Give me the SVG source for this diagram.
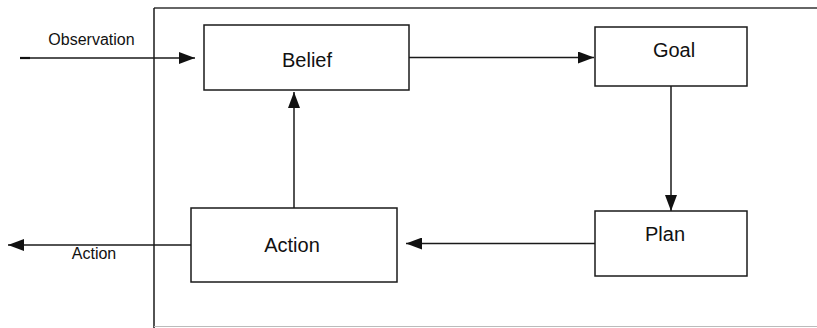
<svg xmlns="http://www.w3.org/2000/svg" width="817" height="328" viewBox="0 0 817 328">
  <style>
    .box { fill: #ffffff; stroke: #1a1a1a; stroke-width: 1.5; }
    .edge { fill: none; stroke: #1a1a1a; stroke-width: 1.5; }
    .label { font-family: "Liberation Sans", Arial, sans-serif; fill: #111111; text-anchor: middle; }
    .node-label { font-size: 20px; }
    .edge-label { font-size: 16px; }
  </style>
  <defs>
    <marker id="arrow" viewBox="0 0 16 12" refX="16" refY="6" markerWidth="16" markerHeight="12" markerUnits="userSpaceOnUse" orient="auto">
      <path d="M0,0 L16,6 L0,12 Z" fill="#111111"/>
    </marker>
  </defs>

  <rect width="817" height="328" fill="#ffffff"/>

  <!-- agent boundary -->
  <g id="frame">
    <line x1="154" y1="8" x2="817" y2="8" stroke="#333333" stroke-width="1.5"/>
    <line x1="154" y1="8" x2="154" y2="328" stroke="#1a1a1a" stroke-width="1.5"/>
    <line x1="154" y1="326.5" x2="817" y2="326.5" stroke="#bbbbbb" stroke-width="1"/>
  </g>

  <g id="connectors">
    <line class="edge" x1="20" y1="58" x2="195" y2="58" marker-end="url(#arrow)"/>
    <line x1="20" y1="58" x2="30" y2="58" stroke="#111111" stroke-width="2.2"/>
    <line class="edge" x1="409" y1="57.5" x2="594" y2="57.5" marker-end="url(#arrow)"/>
    <line class="edge" x1="671" y1="86" x2="671" y2="211" marker-end="url(#arrow)"/>
    <line class="edge" x1="595" y1="243.5" x2="406" y2="243.5" marker-end="url(#arrow)"/>
    <line class="edge" x1="294" y1="208" x2="294" y2="92" marker-end="url(#arrow)"/>
    <line class="edge" x1="191" y1="245" x2="8" y2="245" marker-end="url(#arrow)"/>
    <text class="label edge-label" x="91.5" y="45">Observation</text>
    <text class="label edge-label" x="94" y="259">Action</text>
  </g>

  <g id="belief">
    <rect class="box" x="204" y="25" width="205" height="65"/>
    <text class="label node-label" x="307" y="67">Belief</text>
  </g>

  <g id="goal">
    <rect class="box" x="595" y="27" width="152" height="59"/>
    <text class="label node-label" x="674" y="57">Goal</text>
  </g>

  <g id="plan">
    <rect class="box" x="595" y="211" width="152" height="65"/>
    <text class="label node-label" x="665" y="241">Plan</text>
  </g>

  <g id="action">
    <rect class="box" x="191" y="208" width="206" height="74"/>
    <text class="label node-label" x="292" y="252">Action</text>
  </g>
</svg>
